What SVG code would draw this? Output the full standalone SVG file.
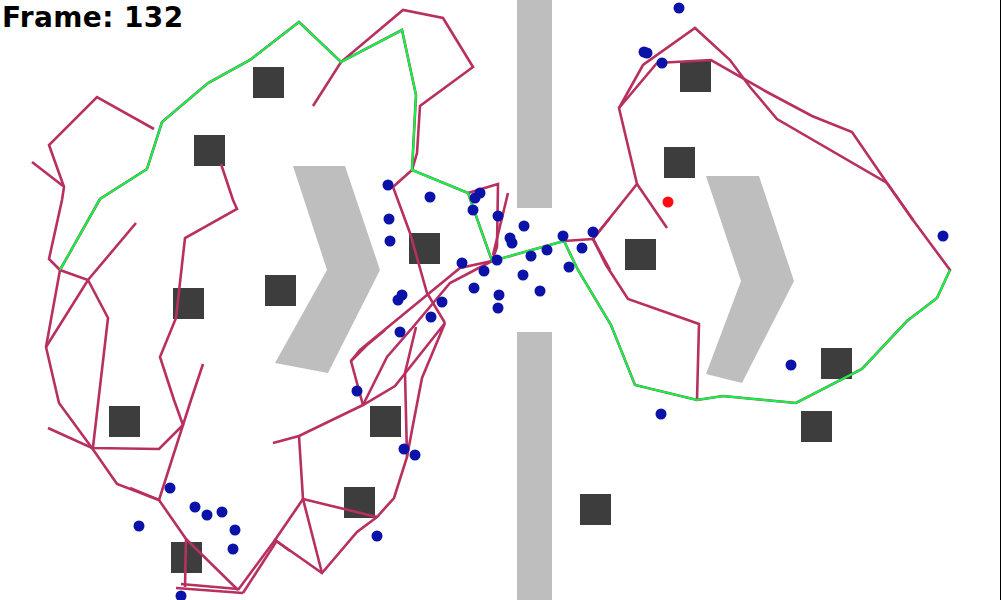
<svg xmlns="http://www.w3.org/2000/svg" width="1001" height="600" viewBox="0 0 1001 600">
<style>
.ob{fill:#3d3d3d}
.wall{fill:#bebebe}
.tr{fill:none;stroke:#b83060;stroke-width:2.6;stroke-linejoin:miter;stroke-linecap:butt}
.gp{fill:none;stroke:#00ff44;stroke-width:2;stroke-linejoin:miter}
.ag{fill:#0a12a8}
.tg{fill:#ff0a14}
.lbl{font-family:"DejaVu Sans","Liberation Sans",sans-serif;font-weight:bold;font-size:28px;fill:#000;letter-spacing:0.4px}
</style>
<rect width="1001" height="600" fill="#fff"/>
<g id="walls">
<rect class="wall" x="517" y="0" width="35" height="208"/>
<rect class="wall" x="517" y="332" width="35" height="268"/>
<polygon class="wall" points="293,166 345,166 380,270 328,373 275,363 327,270"/>
<polygon class="wall" points="706,176 759,176 794,281 742,383 706,374 741,281"/>
</g>
<g id="obstacles">
<rect class="ob" x="253" y="67" width="31" height="31"/>
<rect class="ob" x="194" y="135" width="31" height="31"/>
<rect class="ob" x="409" y="233" width="31" height="31"/>
<rect class="ob" x="265" y="275" width="31" height="31"/>
<rect class="ob" x="173" y="288" width="31" height="31"/>
<rect class="ob" x="109" y="406" width="31" height="31"/>
<rect class="ob" x="370" y="406" width="31" height="31"/>
<rect class="ob" x="344" y="487" width="31" height="31"/>
<rect class="ob" x="171" y="542" width="31" height="31"/>
<rect class="ob" x="680" y="61" width="31" height="31"/>
<rect class="ob" x="664" y="147" width="31" height="31"/>
<rect class="ob" x="625" y="239" width="31" height="31"/>
<rect class="ob" x="821" y="348" width="31" height="31"/>
<rect class="ob" x="801" y="411" width="31" height="31"/>
<rect class="ob" x="580" y="494" width="31" height="31"/>
</g>
<g id="connectors">
<polyline class="tr" points="60,270 100,199 147,169 162,122 208,83 250,60 299,22 341,62 402,30 416,95 412,170 468,193 492,261 564,241 578,270 611,325 635,385 697,400 723,396 796,403 862,369 907,321 937,298 950,270 913,220 887,183 852,132 812,116 767,92 711,60 657,63 619,108"/>
<polyline class="tr" points="913,220 887,183 777,119 750,87 730,60 695,28 643,65 619,108 637,184 593,239 606,265 628,299 699,324 697,400"/>
<polyline class="tr" points="637,184 667,228"/>
<polyline class="tr" points="564,241 593,239 610,218"/>
<polyline class="tr" points="593,239 610,270"/>
<polyline class="tr" points="468,193 498,184 497,247 492,261"/>
<polyline class="tr" points="508,193 493,255"/>
<polyline class="tr" points="313,106 341,62 403,10 443,18 473,67 420,106 417,153 412,170 393,187 410,233 427,293 445,323"/>
<polyline class="tr" points="492,261 460,268 427,295 360,350 351,361 363,405"/>
<polyline class="tr" points="351,361 367,345 385,330"/>
<polyline class="tr" points="492,261 450,283 413,327 387,357 363,405"/>
<polyline class="tr" points="416,327 405,373 407,457"/>
<polyline class="tr" points="273,443 299,436 363,405 395,386 445,323 422,378 412,430 407,457 394,498 377,517 357,532 322,573 275,540 238,590"/>
<polyline class="tr" points="299,436 303,499 322,573"/>
<polyline class="tr" points="303,499 377,517"/>
<polyline class="tr" points="303,499 275,540 290,551"/>
<polyline class="tr" points="243,593 276,542"/>
<polyline class="tr" points="176,588 243,593"/>
<polyline class="tr" points="181,584 238,589"/>
<polyline class="tr" points="32,162 63,186"/>
<polyline class="tr" points="154,129 97,97 49,145 64,187 62,200 49,259 60,270 88,280 108,318 93,447"/>
<polyline class="tr" points="60,270 46,347 59,403 92,448"/>
<polyline class="tr" points="136,223 88,280 46,347"/>
<polyline class="tr" points="48,428 92,448 159,449 183,425"/>
<polyline class="tr" points="92,448 117,484 159,500 186,539 185,587"/>
<polyline class="tr" points="186,539 238,590"/>
<polyline class="tr" points="130,488 159,500"/>
<polyline class="tr" points="221,164 233,200 237,209 185,238 176,318 160,357 174,400 183,425 159,500"/>
<polyline class="tr" points="203,364 191,400 183,425"/>
<polyline class="gp" points="60,270 100,199 147,169 162,122 208,83 250,60 299,22 341,62 402,30 416,95 412,170 468,193 492,261 564,241 578,270 611,325 635,385 697,400 723,396 796,403 862,369 907,321 937,298 950,270"/>
</g>
<g id="agents">
<circle class="ag" cx="388" cy="185" r="5.5"/>
<circle class="ag" cx="430" cy="197" r="5.5"/>
<circle class="ag" cx="480" cy="193" r="5.5"/>
<circle class="ag" cx="475" cy="198" r="5.5"/>
<circle class="ag" cx="473" cy="210" r="5.5"/>
<circle class="ag" cx="498" cy="216" r="5.5"/>
<circle class="ag" cx="389" cy="219" r="5.5"/>
<circle class="ag" cx="390" cy="241" r="5.5"/>
<circle class="ag" cx="524" cy="226" r="5.5"/>
<circle class="ag" cx="510" cy="238" r="5.5"/>
<circle class="ag" cx="512" cy="243" r="5.5"/>
<circle class="ag" cx="497" cy="260" r="5.5"/>
<circle class="ag" cx="462" cy="263" r="5.5"/>
<circle class="ag" cx="484" cy="271" r="5.5"/>
<circle class="ag" cx="531" cy="256" r="5.5"/>
<circle class="ag" cx="547" cy="250" r="5.5"/>
<circle class="ag" cx="563" cy="236" r="5.5"/>
<circle class="ag" cx="593" cy="232" r="5.5"/>
<circle class="ag" cx="582" cy="248" r="5.5"/>
<circle class="ag" cx="569" cy="267" r="5.5"/>
<circle class="ag" cx="523" cy="275" r="5.5"/>
<circle class="ag" cx="474" cy="288" r="5.5"/>
<circle class="ag" cx="499" cy="295" r="5.5"/>
<circle class="ag" cx="498" cy="308" r="5.5"/>
<circle class="ag" cx="540" cy="291" r="5.5"/>
<circle class="ag" cx="402" cy="295" r="5.5"/>
<circle class="ag" cx="398" cy="300" r="5.5"/>
<circle class="ag" cx="442" cy="302" r="5.5"/>
<circle class="ag" cx="431" cy="317" r="5.5"/>
<circle class="ag" cx="400" cy="332" r="5.5"/>
<circle class="ag" cx="357" cy="391" r="5.5"/>
<circle class="ag" cx="404" cy="449" r="5.5"/>
<circle class="ag" cx="415" cy="455" r="5.5"/>
<circle class="ag" cx="377" cy="536" r="5.5"/>
<circle class="ag" cx="170" cy="488" r="5.5"/>
<circle class="ag" cx="139" cy="526" r="5.5"/>
<circle class="ag" cx="195" cy="507" r="5.5"/>
<circle class="ag" cx="207" cy="515" r="5.5"/>
<circle class="ag" cx="222" cy="512" r="5.5"/>
<circle class="ag" cx="235" cy="530" r="5.5"/>
<circle class="ag" cx="233" cy="549" r="5.5"/>
<circle class="ag" cx="181" cy="596" r="5.5"/>
<circle class="ag" cx="679" cy="8" r="5.5"/>
<circle class="ag" cx="644" cy="52" r="5.5"/>
<circle class="ag" cx="647" cy="53" r="5.5"/>
<circle class="ag" cx="662" cy="63" r="5.5"/>
<circle class="ag" cx="943" cy="236" r="5.5"/>
<circle class="ag" cx="791" cy="365" r="5.5"/>
<circle class="ag" cx="661" cy="414" r="5.5"/>
<circle class="tg" cx="668" cy="202" r="5.5"/>
</g>
<rect x="1000" y="0" width="1" height="600" fill="#000"/>
<text class="lbl" x="2" y="27">Frame: 132</text>
</svg>
